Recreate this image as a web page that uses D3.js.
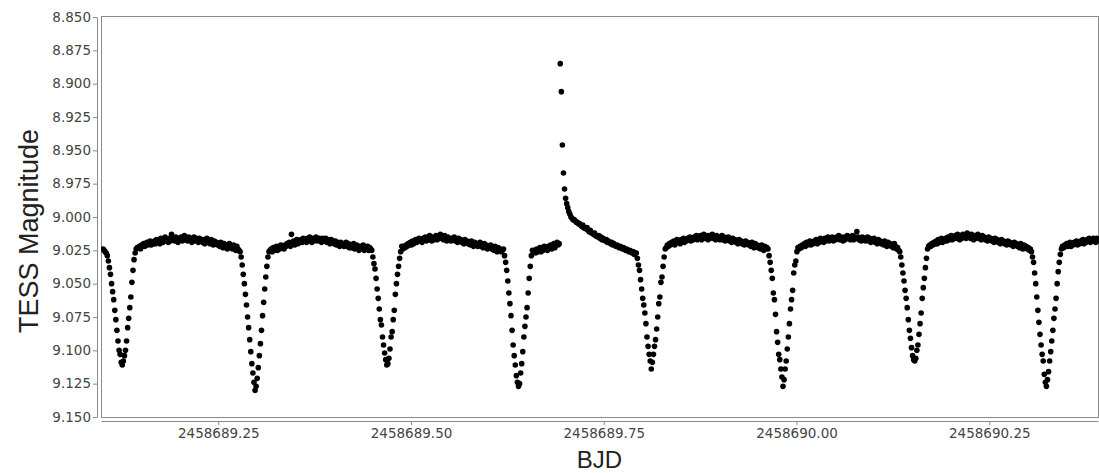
<!DOCTYPE html>
<html>
<head>
<meta charset="utf-8">
<script src="https://cdn.jsdelivr.net/npm/d3@7"></script>
<style>
  body { margin: 0; background: #fff; }
  svg { display: block; }
</style>
</head>
<body>
<svg id="chart" width="1099" height="473"></svg>
<script>
// TESS light curve, 2-minute cadence
const bjdStart = 2458689.1005
const cadenceDays = 2 / 1440

// eclipse 1 (shallow) + out-of-eclipse
const magEclipse1 = [
  9.024, 9.025, 9.026, 9.027, 9.029, 9.033, 9.038, 9.043, 9.050, 9.056, 9.062, 9.070, 9.077, 9.085, 9.093, 9.100, 9.103,
  9.109, 9.111, 9.108, 9.104, 9.100, 9.093, 9.083, 9.076, 9.068, 9.060, 9.049, 9.040, 9.032, 9.027, 9.024, 9.023,
  9.023, 9.022, 9.024, 9.021, 9.022, 9.020, 9.022, 9.021, 9.019, 9.021, 9.020, 9.018, 9.021, 9.019, 9.020,
  9.018, 9.020, 9.017, 9.019, 9.018, 9.020, 9.016, 9.018, 9.019, 9.017, 9.015, 9.018, 9.017, 9.019, 9.016,
  9.018, 9.013, 9.017, 9.016, 9.018, 9.015, 9.017, 9.019, 9.016, 9.017, 9.015, 9.018, 9.016, 9.014, 9.017,
  9.016, 9.018, 9.015, 9.017, 9.016, 9.019, 9.017, 9.015, 9.018, 9.016, 9.017, 9.019, 9.016, 9.018, 9.017,
  9.019, 9.017, 9.020, 9.018, 9.016, 9.019, 9.018, 9.020, 9.017, 9.019, 9.021, 9.018, 9.020, 9.019, 9.021,
  9.020, 9.022, 9.019, 9.021, 9.023, 9.020, 9.022, 9.021, 9.024, 9.022, 9.020, 9.023, 9.022, 9.024, 9.021, 9.023, 9.025, 9.022, 9.024, 9.025
]

// eclipse 2 (deep) + out-of-eclipse
const magEclipse2 = [
  9.026, 9.030, 9.036, 9.043, 9.050, 9.058, 9.066, 9.075, 9.083, 9.092, 9.101, 9.110, 9.117, 9.124,
  9.130, 9.127, 9.121, 9.113, 9.104, 9.095, 9.085, 9.074, 9.064, 9.054, 9.045, 9.037, 9.030, 9.026,
  9.025, 9.024, 9.026, 9.023, 9.025, 9.024, 9.022, 9.025, 9.023, 9.024, 9.021, 9.023, 9.022, 9.024, 9.021,
  9.022, 9.020, 9.021, 9.019, 9.022, 9.013, 9.020, 9.018, 9.021, 9.019, 9.017, 9.020, 9.018, 9.019, 9.017,
  9.019, 9.016, 9.018, 9.017, 9.019, 9.016, 9.018, 9.015, 9.017, 9.019, 9.016, 9.018, 9.017, 9.015, 9.018,
  9.017, 9.016, 9.018, 9.019, 9.016, 9.017, 9.018, 9.016, 9.019, 9.017, 9.018, 9.020, 9.017, 9.019, 9.018,
  9.020, 9.018, 9.021, 9.019, 9.020, 9.022, 9.019, 9.021, 9.020, 9.022, 9.021, 9.019, 9.022, 9.020, 9.023,
  9.021, 9.023, 9.022, 9.020, 9.024, 9.022, 9.021, 9.023, 9.025, 9.022, 9.024, 9.023, 9.021, 9.025, 9.023, 9.024, 9.022, 9.025, 9.023, 9.024
]

// eclipse 3 (shallow) + out-of-eclipse
const magEclipse3 = [
  9.025, 9.030, 9.035, 9.039, 9.046, 9.054, 9.061, 9.069, 9.077, 9.081, 9.090, 9.096, 9.102, 9.107,
  9.111, 9.110, 9.106, 9.099, 9.090, 9.086, 9.077, 9.070, 9.058, 9.050, 9.043, 9.037, 9.031, 9.026, 9.022,
  9.024, 9.022, 9.023, 9.021, 9.022, 9.020, 9.021, 9.019, 9.021, 9.018, 9.020, 9.019, 9.017, 9.019, 9.018,
  9.016, 9.018, 9.017, 9.019, 9.016, 9.017, 9.015, 9.018, 9.016, 9.017, 9.014, 9.016, 9.018, 9.015, 9.017,
  9.016, 9.014, 9.017, 9.015, 9.016, 9.013, 9.016, 9.015, 9.017, 9.014, 9.016, 9.018, 9.015, 9.017, 9.016,
  9.018, 9.016, 9.017, 9.015, 9.018, 9.017, 9.019, 9.016, 9.018, 9.017, 9.019, 9.018, 9.020, 9.017, 9.019,
  9.018, 9.020, 9.019, 9.021, 9.018, 9.020, 9.022, 9.019, 9.021, 9.020, 9.022, 9.021, 9.019, 9.022, 9.021,
  9.023, 9.020, 9.022, 9.021, 9.024, 9.022, 9.023, 9.021, 9.024, 9.023, 9.025, 9.022, 9.024, 9.026, 9.023, 9.025, 9.024, 9.026, 9.025
]

// eclipse 4 (deep) + stretch before the flare
const magEclipse4 = [
  9.024, 9.029, 9.034, 9.040, 9.048, 9.057, 9.065, 9.074, 9.085, 9.096, 9.104, 9.111, 9.119, 9.124,
  9.127, 9.125, 9.117, 9.110, 9.101, 9.090, 9.082, 9.075, 9.068, 9.057, 9.046, 9.037, 9.029, 9.025,
  9.026, 9.025, 9.027, 9.024, 9.026, 9.025, 9.023, 9.026, 9.024, 9.025, 9.022, 9.024, 9.023, 9.025, 9.022,
  9.023, 9.021, 9.024, 9.022, 9.020, 9.023, 9.021, 9.019, 9.021, 9.020
]

// flare and its decay
const magFlare = [
  8.885, 8.906, 8.946, 8.967, 8.979, 8.986, 8.990, 8.993, 8.996, 8.998, 9.000,
  9.001, 9.002, 9.002, 9.003, 9.004, 9.004, 9.005, 9.005, 9.006, 9.007, 9.006, 9.008,
  9.008, 9.009, 9.008, 9.010, 9.011, 9.010, 9.012, 9.012, 9.013, 9.012, 9.014, 9.014,
  9.015, 9.014, 9.016, 9.015, 9.017, 9.016, 9.017, 9.018, 9.017, 9.019, 9.018, 9.019,
  9.020, 9.019, 9.021, 9.020, 9.021, 9.022, 9.021, 9.022, 9.023, 9.022, 9.023, 9.024,
  9.023, 9.024, 9.025, 9.024, 9.025, 9.026, 9.025, 9.026, 9.027, 9.026, 9.028, 9.027
]

// eclipse 5 (shallow) + out-of-eclipse
const magEclipse5 = [
  9.027, 9.031, 9.036, 9.040, 9.047, 9.054, 9.061, 9.066, 9.072, 9.080, 9.090, 9.097, 9.103, 9.108,
  9.114, 9.109, 9.103, 9.097, 9.092, 9.084, 9.075, 9.065, 9.060, 9.049, 9.045, 9.037, 9.030, 9.024,
  9.023, 9.021, 9.022, 9.020, 9.021, 9.019, 9.020, 9.018, 9.021, 9.019, 9.017, 9.019, 9.018, 9.020, 9.017,
  9.018, 9.016, 9.019, 9.017, 9.018, 9.016, 9.017, 9.015, 9.018, 9.016, 9.017, 9.015, 9.016, 9.014, 9.017,
  9.015, 9.016, 9.014, 9.017, 9.015, 9.013, 9.016, 9.014, 9.015, 9.017, 9.014, 9.016, 9.015, 9.013, 9.016,
  9.015, 9.017, 9.014, 9.016, 9.015, 9.017, 9.016, 9.014, 9.017, 9.015, 9.018, 9.016, 9.017, 9.015, 9.018,
  9.017, 9.019, 9.016, 9.018, 9.017, 9.019, 9.018, 9.020, 9.017, 9.019, 9.018, 9.020, 9.019, 9.021, 9.018,
  9.020, 9.019, 9.021, 9.020, 9.022, 9.019, 9.021, 9.023, 9.020, 9.022, 9.021, 9.023, 9.022, 9.024, 9.021, 9.023, 9.025, 9.022, 9.024, 9.023
]

// eclipse 6 (deep) + out-of-eclipse
const magEclipse6 = [
  9.024, 9.029, 9.034, 9.040, 9.046, 9.057, 9.062, 9.073, 9.086, 9.094, 9.103, 9.107, 9.114, 9.120,
  9.127, 9.122, 9.114, 9.108, 9.099, 9.090, 9.080, 9.069, 9.062, 9.055, 9.042, 9.036, 9.033, 9.026, 9.023,
  9.024, 9.022, 9.023, 9.021, 9.022, 9.020, 9.022, 9.019, 9.021, 9.020, 9.018, 9.021, 9.019, 9.020, 9.018,
  9.019, 9.017, 9.020, 9.018, 9.019, 9.016, 9.018, 9.017, 9.019, 9.016, 9.018, 9.017, 9.015, 9.018, 9.016,
  9.017, 9.015, 9.018, 9.016, 9.017, 9.015, 9.016, 9.014, 9.017, 9.015, 9.016, 9.018, 9.015, 9.017, 9.016,
  9.014, 9.016, 9.015, 9.017, 9.016, 9.014, 9.017, 9.015, 9.016, 9.011, 9.015, 9.017, 9.016, 9.018, 9.015,
  9.017, 9.016, 9.018, 9.017, 9.015, 9.018, 9.016, 9.019, 9.017, 9.018, 9.016, 9.019, 9.018, 9.020, 9.017,
  9.019, 9.018, 9.020, 9.019, 9.021, 9.018, 9.020, 9.022, 9.019, 9.021, 9.020, 9.022, 9.021, 9.023, 9.020, 9.022, 9.024, 9.023, 9.025
]

// eclipse 7 (shallow) + out-of-eclipse
const magEclipse7 = [
  9.026, 9.030, 9.036, 9.042, 9.048, 9.055, 9.061, 9.068, 9.077, 9.085, 9.091, 9.098, 9.104, 9.107,
  9.108, 9.106, 9.100, 9.096, 9.088, 9.080, 9.072, 9.061, 9.053, 9.046, 9.038, 9.031, 9.024, 9.022,
  9.021, 9.022, 9.020, 9.021, 9.019, 9.020, 9.018, 9.020, 9.017, 9.019, 9.018, 9.016, 9.019, 9.017, 9.018,
  9.016, 9.018, 9.015, 9.017, 9.016, 9.014, 9.017, 9.015, 9.016, 9.014, 9.016, 9.013, 9.015, 9.017, 9.014,
  9.016, 9.013, 9.015, 9.014, 9.016, 9.012, 9.015, 9.014, 9.016, 9.013, 9.015, 9.017, 9.014, 9.016, 9.015,
  9.013, 9.016, 9.015, 9.017, 9.014, 9.016, 9.015, 9.017, 9.016, 9.018, 9.015, 9.017, 9.016, 9.018, 9.017,
  9.019, 9.016, 9.018, 9.017, 9.019, 9.018, 9.020, 9.017, 9.019, 9.018, 9.020, 9.019, 9.021, 9.018, 9.020,
  9.019, 9.021, 9.020, 9.022, 9.019, 9.021, 9.020, 9.022, 9.021, 9.023, 9.020, 9.022, 9.024, 9.021, 9.023, 9.022, 9.024, 9.023, 9.025, 9.024
]

// eclipse 8 (deep) + tail
const magEclipse8 = [
  9.026, 9.030, 9.034, 9.042, 9.050, 9.060, 9.070, 9.079, 9.088, 9.096, 9.103, 9.108, 9.118, 9.124,
  9.127, 9.122, 9.116, 9.108, 9.101, 9.093, 9.085, 9.076, 9.069, 9.061, 9.050, 9.041, 9.034, 9.028, 9.024,
  9.022, 9.023, 9.021, 9.022, 9.020, 9.022, 9.021, 9.019, 9.022, 9.020, 9.021, 9.019, 9.020, 9.018, 9.021,
  9.019, 9.020, 9.018, 9.019, 9.017, 9.020, 9.018, 9.019, 9.017, 9.018, 9.016, 9.019, 9.017, 9.018, 9.016,
  9.017, 9.019, 9.016, 9.018
]

const magTicks = [8.850, 8.875, 8.900, 8.925, 8.950, 8.975, 9.000, 9.025, 9.050, 9.075, 9.100, 9.125, 9.150]
const bjdTicks = [2458689.25, 2458689.50, 2458689.75, 2458690.00, 2458690.25]

const tessMag = [].concat(magEclipse1, magEclipse2, magEclipse3, magEclipse4, magFlare,
  magEclipse5, magEclipse6, magEclipse7, magEclipse8)
const points = tessMag.map((mag, i) => ({ bjd: bjdStart + i * cadenceDays, mag }))

const plot = { left: 101, right: 1098, top: 17, bottom: 417 }
const gridColor = '#8a8a8a'
const tickFont = '"DejaVu Sans", sans-serif'
const labelFont = '"Liberation Sans", Arial, sans-serif'

const x = d3.scaleLinear()
  .domain([2458689.0979, 2458690.3910])
  .range([plot.left, plot.right])

const y = d3.scaleLinear()
  .domain([8.85, 9.15])
  .range([plot.top, plot.bottom])

const svg = d3.select('#chart')

svg.append('defs')
  .append('clipPath')
  .attr('id', 'plot-clip')
  .append('rect')
  .attr('x', plot.left)
  .attr('y', plot.top)
  .attr('width', plot.right - plot.left + 1)
  .attr('height', plot.bottom - plot.top + 1)

// plot outline
svg.append('rect')
  .attr('x', plot.left + 0.5)
  .attr('y', plot.top - 0.5)
  .attr('width', plot.right - plot.left)
  .attr('height', plot.bottom - plot.top + 1)
  .attr('fill', 'none')
  .attr('stroke', gridColor)

svg.append('g')
  .attr('clip-path', 'url(#plot-clip)')
  .selectAll('circle')
  .data(points)
  .join('circle')
  .attr('cx', d => x(d.bjd))
  .attr('cy', d => y(d.mag))
  .attr('r', 2.8)
  .attr('fill', '#000')

const yAxis = svg.append('g')
  .attr('transform', 'translate(97,0)')
  .call(d3.axisLeft(y)
    .tickValues(magTicks)
    .tickFormat(d3.format('.3f'))
    .tickSize(4)
    .tickSizeOuter(0)
    .tickPadding(2))

const xAxis = svg.append('g')
  .attr('transform', `translate(0,${plot.bottom + 4})`)
  .call(d3.axisBottom(x)
    .tickValues(bjdTicks)
    .tickFormat(d3.format('.2f'))
    .tickSize(4)
    .tickSizeOuter(0)
    .tickPadding(3))

for (const g of [yAxis, xAxis]) {
  g.select('.domain').attr('stroke', gridColor)
  g.selectAll('.tick line').attr('stroke', gridColor)
  g.selectAll('.tick text')
    .attr('fill', '#444')
    .style('font-family', tickFont)
    .style('font-size', '13.5px')
}

svg.append('text')
  .attr('x', (plot.left + plot.right) / 2)
  .attr('y', 468)
  .attr('text-anchor', 'middle')
  .attr('fill', '#222')
  .style('font-family', labelFont)
  .style('font-size', '24px')
  .text('BJD')

svg.append('text')
  .attr('transform', 'translate(38,231) rotate(-90)')
  .attr('text-anchor', 'middle')
  .attr('fill', '#222')
  .style('font-family', labelFont)
  .style('font-size', '27px')
  .text('TESS Magnitude')
</script>
</body>
</html>
